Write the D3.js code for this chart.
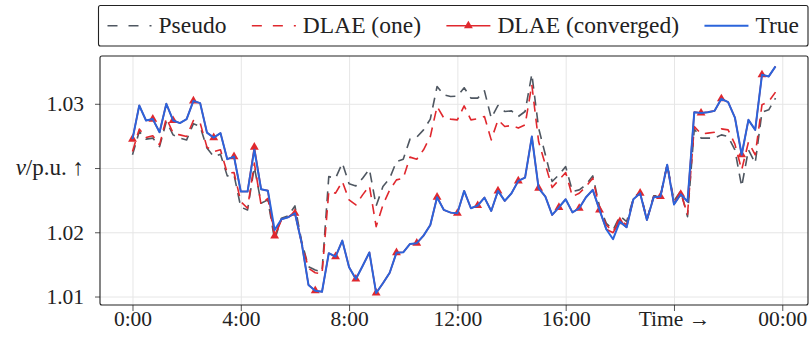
<!DOCTYPE html>
<html>
<head>
<meta charset="utf-8">
<script src="https://cdn.jsdelivr.net/npm/d3@7"></script>
<style>
  body { margin: 0; background: #fff; }
  svg text { font-family: "Liberation Serif", "DejaVu Serif", serif; }
</style>
</head>
<body>
<svg id="chart" width="811" height="340"></svg>
<script>
// 15-minute samples over one day (hours)
const times = d3.range(96).map(i => i / 4);

const trueV = [
  1.02225, 1.02487, 1.02370, 1.02381, 1.02279, 1.02500, 1.02370, 1.02350, 1.02381, 1.02523,
  1.02505, 1.02276, 1.02237, 1.02272, 1.02069, 1.02089, 1.01817, 1.01817, 1.02142, 1.01835,
  1.01824, 1.01518, 1.01602, 1.01617, 1.01648, 1.01415, 1.01090, 1.01045, 1.01037, 1.01337,
  1.01310, 1.01435, 1.01228, 1.01136, 1.01238, 1.01343, 1.01027, 1.01103, 1.01185, 1.01341,
  1.01344, 1.01409, 1.01415, 1.01474, 1.01557, 1.01773, 1.01674, 1.01653, 1.01648, 1.01822,
  1.01687, 1.01708, 1.01770, 1.01666, 1.01822, 1.01744, 1.01804, 1.01900, 1.01926, 1.02245,
  1.01843, 1.01778, 1.01635, 1.01694, 1.01757, 1.01655, 1.01687, 1.01773, 1.01830, 1.01674,
  1.01524, 1.01446, 1.01583, 1.01539, 1.01757, 1.01804, 1.01596, 1.01773, 1.01778, 1.02025,
  1.01717, 1.01796, 1.01739, 1.02435, 1.02428, 1.02435, 1.02445, 1.02539, 1.02513, 1.02393,
  1.02103, 1.02375, 1.02297, 1.02726, 1.02713, 1.02791
];

const convV = [
  1.02225, 1.02487, 1.02370, 1.02381, 1.02279, 1.02500, 1.02370, 1.02350, 1.02381, 1.02523,
  1.02505, 1.02276, 1.02237, 1.02272, 1.02069, 1.02089, 1.01817, 1.01817, 1.02163, 1.01835,
  1.01824, 1.01471, 1.01602, 1.01617, 1.01648, 1.01415, 1.01090, 1.01045, 1.01037, 1.01337,
  1.01310, 1.01435, 1.01228, 1.01136, 1.01238, 1.01343, 1.01027, 1.01103, 1.01185, 1.01341,
  1.01344, 1.01409, 1.01415, 1.01474, 1.01557, 1.01773, 1.01674, 1.01653, 1.01648, 1.01822,
  1.01687, 1.01708, 1.01770, 1.01666, 1.01822, 1.01744, 1.01804, 1.01900, 1.01926, 1.02245,
  1.01843, 1.01778, 1.01635, 1.01694, 1.01757, 1.01655, 1.01687, 1.01773, 1.01830, 1.01674,
  1.01524, 1.01497, 1.01583, 1.01539, 1.01757, 1.01804, 1.01596, 1.01773, 1.01778, 1.02025,
  1.01717, 1.01796, 1.01739, 1.02435, 1.02428, 1.02435, 1.02445, 1.02539, 1.02513, 1.02393,
  1.02103, 1.02375, 1.02297, 1.02726, 1.02713, 1.02791
];

const dlaeOneV = [
  1.02128, 1.02303, 1.02237, 1.02251, 1.02180, 1.02389, 1.02272, 1.02258, 1.02245, 1.02370,
  1.02350, 1.02163, 1.02128, 1.02142, 1.01960, 1.01965, 1.01739, 1.01687, 1.02038, 1.01713,
  1.01765, 1.01466, 1.01596, 1.01617, 1.01661, 1.01415, 1.01220, 1.01185, 1.01175, 1.01817,
  1.01804, 1.01895, 1.01752, 1.01713, 1.01791, 1.01861, 1.01544, 1.01713, 1.01830, 1.01908,
  1.01921, 1.02085, 1.02069, 1.02142, 1.02245, 1.02479, 1.02389, 1.02381, 1.02375, 1.02484,
  1.02375, 1.02383, 1.02401, 1.02219, 1.02375, 1.02323, 1.02331, 1.02311, 1.02336, 1.02648,
  1.02206, 1.02025, 1.01848, 1.01908, 1.01965, 1.01778, 1.01804, 1.01856, 1.01921, 1.01687,
  1.01557, 1.01505, 1.01596, 1.01557, 1.01757, 1.01809, 1.01596, 1.01778, 1.01778, 1.02025,
  1.01729, 1.01806, 1.01640, 1.02323, 1.02266, 1.02272, 1.02279, 1.02305, 1.02297, 1.02186,
  1.01986, 1.02202, 1.02103, 1.02492, 1.02518, 1.02591
];

const pseudoV = [
  1.02103, 1.02284, 1.02225, 1.02233, 1.02167, 1.02362, 1.02258, 1.02233, 1.02219, 1.02344,
  1.02323, 1.02155, 1.02089, 1.02108, 1.01939, 1.01947, 1.01695, 1.01674, 1.02009, 1.01726,
  1.01752, 1.01440, 1.01609, 1.01627, 1.01705, 1.01427, 1.01232, 1.01206, 1.01193, 1.01933,
  1.01921, 1.02038, 1.01877, 1.01861, 1.01921, 1.01991, 1.01705, 1.01856, 1.01921, 1.02050,
  1.02069, 1.02225, 1.02240, 1.02297, 1.02381, 1.02635, 1.02570, 1.02557, 1.02560, 1.02625,
  1.02544, 1.02544, 1.02601, 1.02389, 1.02487, 1.02440, 1.02445, 1.02401, 1.02440, 1.02731,
  1.02311, 1.02103, 1.01895, 1.01947, 1.02011, 1.01818, 1.01830, 1.01869, 1.01939, 1.01700,
  1.01570, 1.01518, 1.01627, 1.01583, 1.01765, 1.01817, 1.01602, 1.01783, 1.01783, 1.02030,
  1.01744, 1.01822, 1.01622, 1.02305, 1.02233, 1.02233, 1.02233, 1.02258, 1.02245, 1.02142,
  1.01856, 1.02142, 1.02038, 1.02435, 1.02453, 1.02544
];

const xTickValues = [0, 4, 8, 12, 16, 20, 24];
const xTickLabels = ['0:00', '4:00', '8:00', '12:00', '16:00', 'Time \u2192', '00:00'];
const yTickValues = [1.01, 1.015, 1.02, 1.025];
const yTickLabels = ['1.01', '1.02', '', '1.03']; // the 1.02 slot carries the axis label

const series = [
  { name: 'Pseudo', values: pseudoV, color: '#4f5761', dash: '10,7', marks: false },
  { name: 'DLAE (one)', values: dlaeOneV, color: '#e0282e', dash: '10,7', marks: false },
  { name: 'DLAE (converged)', values: convV, color: '#e0282e', dash: null, marks: true },
  { name: 'True', values: trueV, color: '#2b64db', dash: null, marks: false }
];

const serif = '"Liberation Serif", "DejaVu Serif", serif';
const margin = { top: 56, right: 3, bottom: 35, left: 100 };
const width = 811 - margin.left - margin.right;
const height = 340 - margin.top - margin.bottom;

const svg = d3.select('#chart');
const g = svg.append('g').attr('transform', `translate(${margin.left},${margin.top})`);

const x = d3.scaleLinear().domain([-1.2, 24.95]).range([0, width]);
const y = d3.scaleLinear().domain([1.00934, 1.02872]).range([height, 0]);

// grid
g.append('g')
    .attr('transform', `translate(0,${height})`)
    .call(d3.axisBottom(x).tickValues(xTickValues).tickSize(-height).tickFormat(''))
    .call(s => s.select('.domain').remove())
    .call(s => s.selectAll('line').attr('stroke', '#e6e6e6'));
g.append('g')
    .call(d3.axisLeft(y).tickValues(yTickValues).tickSize(-width).tickFormat(''))
    .call(s => s.select('.domain').remove())
    .call(s => s.selectAll('line').attr('stroke', '#e6e6e6'));

// axes
const xAxis = g.append('g')
    .attr('transform', `translate(0,${height})`)
    .call(d3.axisBottom(x).tickValues(xTickValues).tickSize(6)
        .tickFormat((d, i) => xTickLabels[i]));
xAxis.attr('font-family', serif).attr('font-size', 21.5);
xAxis.select('.domain').remove();
xAxis.selectAll('line').attr('stroke', '#555');
xAxis.selectAll('text').attr('y', 6).attr('fill', '#222');

const yAxis = g.append('g')
    .call(d3.axisLeft(y).tickValues(yTickValues).tickSize(5).tickPadding(11)
        .tickFormat((d, i) => yTickLabels[i]));
yAxis.attr('font-family', serif).attr('font-size', 21.5);
yAxis.select('.domain').remove();
yAxis.selectAll('line').attr('stroke', '#555');
yAxis.selectAll('text').attr('fill', '#222');

const yLab = g.append('text')
    .attr('x', -16)
    .attr('y', y(1.02))
    .attr('dy', '0.32em')
    .attr('text-anchor', 'end')
    .attr('fill', '#222')
    .attr('font-family', serif)
    .attr('font-size', 23);
yLab.append('tspan').attr('font-style', 'italic').text('v');
yLab.append('tspan').text('/p.u. \u2191');

// lines
const line = d3.line()
    .x((d, i) => x(times[i]))
    .y(d => y(d));

const triangle = d3.symbol().type(d3.symbolTriangle).size(34);

series.forEach(s => {
  g.append('path')
      .datum(s.values)
      .attr('fill', 'none')
      .attr('stroke', s.color)
      .attr('stroke-width', s.name === 'True' ? 2 : 1.6)
      .attr('stroke-dasharray', s.dash)
      .attr('stroke-linejoin', 'round')
      .attr('d', line);
  if (s.marks) {
    g.selectAll(null)
        .data(s.values.map((v, i) => ({ v, i })).filter(d => d.i % 3 === 0))
        .enter().append('path')
        .attr('d', triangle)
        .attr('fill', s.color)
        .attr('transform', d => `translate(${x(times[d.i])},${y(d.v)})`);
  }
});

// frame
g.append('rect')
    .attr('width', width)
    .attr('height', height)
    .attr('rx', 2)
    .attr('fill', 'none')
    .attr('stroke', '#222')
    .attr('stroke-width', 1.1);

// legend
const legBox = { x: 98.5, y: 5.5, w: 709.5, h: 40.5 };
const legend = svg.append('g');
legend.append('rect')
    .attr('x', legBox.x).attr('y', legBox.y)
    .attr('width', legBox.w).attr('height', legBox.h)
    .attr('rx', 2)
    .attr('fill', '#fff')
    .attr('stroke', '#222')
    .attr('stroke-width', 1.1);

const sampleLen = 44, pad = 9, textGap = 7;
const cy = legBox.y + legBox.h / 2;
const items = series.map(s => {
  const it = legend.append('g');
  it.append('line')
      .attr('x1', 0).attr('x2', sampleLen)
      .attr('y1', cy).attr('y2', cy)
      .attr('stroke', s.color)
      .attr('stroke-width', s.name === 'True' ? 2 : 1.6)
      .attr('stroke-dasharray', s.dash ? '10,11' : null);
  if (s.marks) {
    it.append('path').attr('d', triangle).attr('fill', s.color)
        .attr('transform', `translate(${sampleLen / 2},${cy})`);
  }
  const t = it.append('text')
      .attr('x', sampleLen + textGap)
      .attr('y', cy)
      .attr('dy', '0.3em')
      .attr('fill', '#222')
      .attr('font-family', serif)
      .attr('font-size', 23.5)
      .text(s.name);
  return { g: it, w: sampleLen + textGap + t.node().getComputedTextLength() };
});
const used = d3.sum(items, d => d.w);
const gap = (legBox.w - 2 * pad - used) / (items.length - 1);
let cx = legBox.x + pad;
items.forEach(d => {
  d.g.attr('transform', `translate(${cx},0)`);
  cx += d.w + gap;
});
</script>
</body>
</html>
